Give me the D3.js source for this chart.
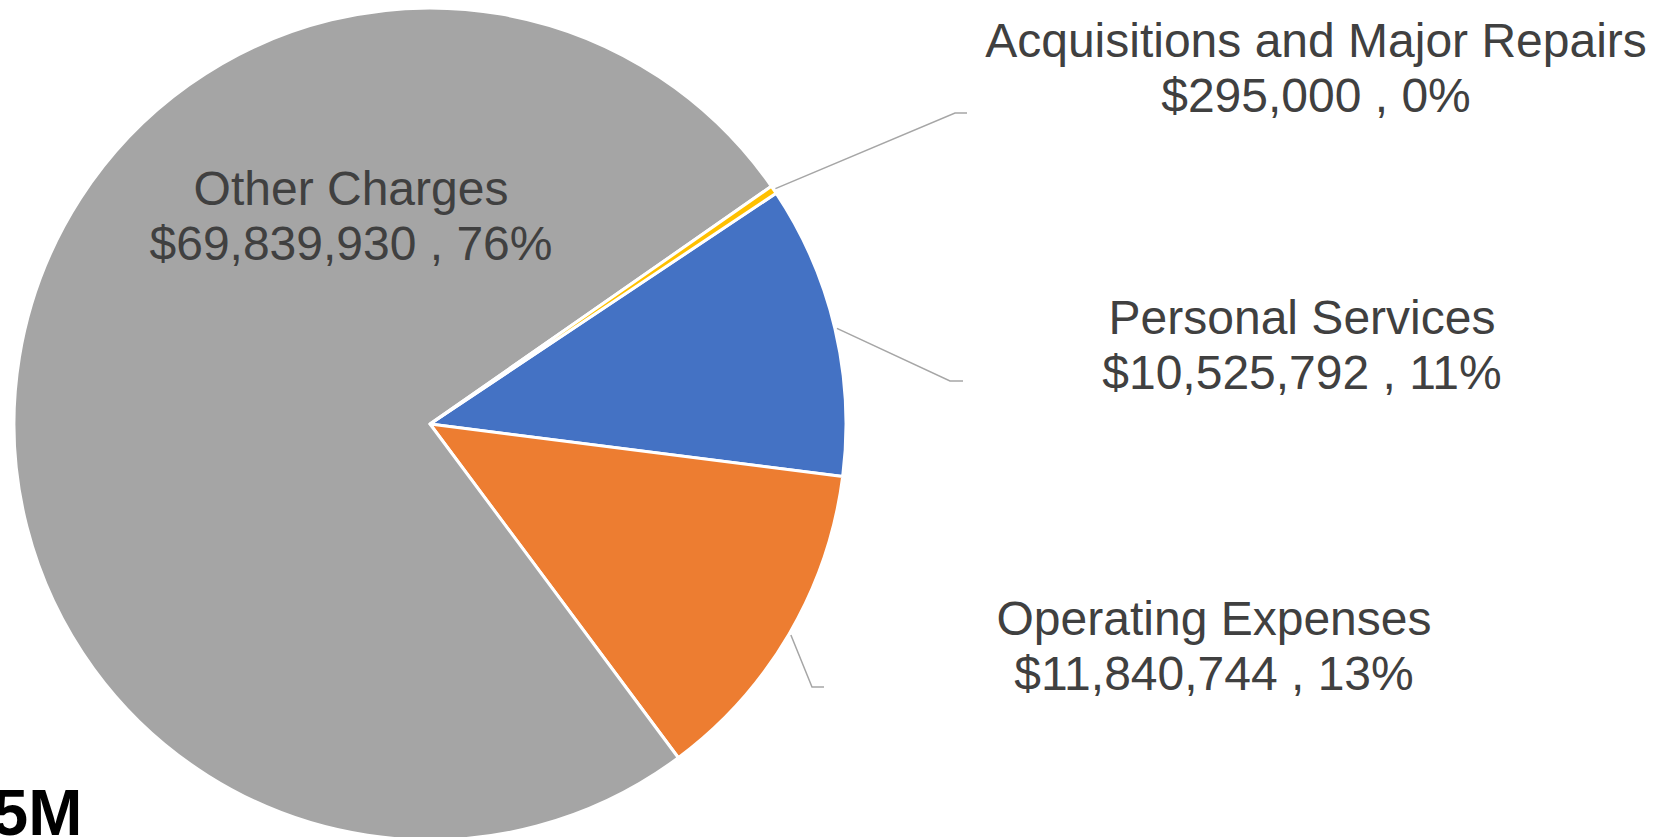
<!DOCTYPE html>
<html>
<head>
<meta charset="utf-8">
<script src="https://cdn.jsdelivr.net/npm/d3@7/dist/d3.min.js"></script>
<style>
  html, body { margin: 0; padding: 0; background: #fff; overflow: hidden; }
  svg { display: block; }
</style>
</head>
<body>
<svg id="chart" width="1657" height="837"></svg>
<script>
// ---- data ----
const categories = ["Personal Services", "Operating Expenses", "Other Charges", "Acquisitions and Major Repairs"];
const amounts = [10525792, 11840744, 69839930, 295000];
const percentLabels = ["11%", "13%", "76%", "0%"];
const colors = ["#4472c4", "#ed7d31", "#a5a5a5", "#ffc000"];
const cornerText = "5M";

// ---- layout ----
const W = 1657, H = 837;
const cx = 430, cy = 424, R = 416;
const startDeg = 56.3;
const fontSize = 48, lineGap = 55;
// label layout: center x, first line middle y, leader kink and end (null = inside label)
const labelLayout = [
  { x: 1302, y: 317, kink: [950, 381], end: [963, 381] },
  { x: 1214, y: 618, kink: [812, 687], end: [824, 687] },
  { x: 351, y: 188, kink: null, end: null },
  { x: 1316, y: 40, kink: [955, 113], end: [967, 113] }
];

const svg = d3.select("#chart");
const g = svg.append("g").attr("transform", `translate(${cx},${cy})`);

const toRad = d => d * Math.PI / 180;
const pie = d3.pie().sort(null).value(d => d)
  .startAngle(toRad(startDeg)).endAngle(toRad(startDeg + 360));
const arcs = pie(amounts);
const arc = d3.arc().innerRadius(0).outerRadius(R);

g.selectAll("path.slice").data(arcs).enter().append("path")
  .attr("class", "slice")
  .attr("d", arc)
  .attr("fill", (d, i) => colors[i])
  .attr("stroke", "#ffffff")
  .attr("stroke-width", 3)
  .attr("stroke-linejoin", "round");

// leader lines
const fmt = d3.format("$,");
arcs.forEach((a, i) => {
  const L = labelLayout[i];
  if (!L.kink) return;
  const mid = (a.startAngle + a.endAngle) / 2;
  const sx = cx + (R + 2) * Math.sin(mid);
  const sy = cy - (R + 2) * Math.cos(mid);
  svg.append("polyline")
    .attr("points", [[sx, sy], L.kink, L.end].map(p => p.join(",")).join(" "))
    .attr("fill", "none")
    .attr("stroke", "#a6a6a6")
    .attr("stroke-width", 1.5);
});

// labels
arcs.forEach((a, i) => {
  const L = labelLayout[i];
  const t = svg.append("text")
    .attr("text-anchor", "middle")
    .attr("font-family", "Liberation Sans, Arial, sans-serif")
    .attr("font-size", fontSize)
    .attr("fill", "#404040");
  t.append("tspan").attr("x", L.x).attr("y", L.y).attr("dy", "0.35em").text(categories[i]);
  t.append("tspan").attr("x", L.x).attr("y", L.y + lineGap).attr("dy", "0.35em")
    .text(fmt(amounts[i]) + " , " + percentLabels[i]);
});

// clipped corner text (cut off at the edge in the reference as well)
svg.append("text")
  .attr("x", -8).attr("y", 835)
  .attr("font-family", "Liberation Sans, Arial, sans-serif")
  .attr("font-weight", "bold")
  .attr("font-size", 65)
  .attr("fill", "#000")
  .text(cornerText);
</script>
</body>
</html>
